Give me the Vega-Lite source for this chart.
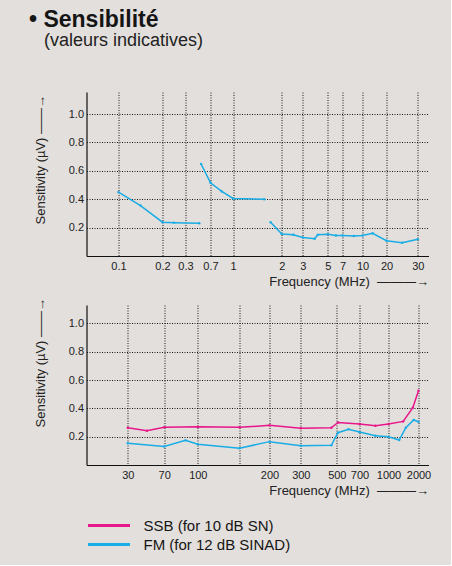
{
  "$schema": "https://vega.github.io/schema/vega-lite/v6.json",
  "background": "#e3dfdc",
  "padding": {"left": 28.5, "top": 9, "right": 19, "bottom": 12},
  "title": {
    "text": "• Sensibilité",
    "subtitle": "\u200b\u00a0\u00a0\u00a0(valeurs indicatives)",
    "anchor": "start",
    "dx": -5.5,
    "offset": 42,
    "font": "Liberation Sans",
    "fontSize": 23,
    "fontWeight": "bold",
    "color": "#151515",
    "subtitleFont": "Liberation Sans",
    "subtitleFontSize": 18,
    "subtitleColor": "#222222",
    "subtitlePadding": 0
  },
  "spacing": 9,
  "datasets": {
    "hf": [
      {"f": 0.1, "s": 0.45, "series": "FM", "seg": "a"},
      {"f": 0.15, "s": 0.355, "series": "FM", "seg": "a"},
      {"f": 0.2, "s": 0.238, "series": "FM", "seg": "a"},
      {"f": 0.25, "s": 0.235, "series": "FM", "seg": "a"},
      {"f": 0.52, "s": 0.23, "series": "FM", "seg": "a"},
      {"f": 0.55, "s": 0.648, "series": "FM", "seg": "b"},
      {"f": 0.7, "s": 0.516, "series": "FM", "seg": "b"},
      {"f": 0.85, "s": 0.455, "series": "FM", "seg": "b"},
      {"f": 1, "s": 0.405, "series": "FM", "seg": "b"},
      {"f": 1.64, "s": 0.4, "series": "FM", "seg": "b"},
      {"f": 1.77, "s": 0.238, "series": "FM", "seg": "c"},
      {"f": 2, "s": 0.155, "series": "FM", "seg": "c"},
      {"f": 2.55, "s": 0.15, "series": "FM", "seg": "c"},
      {"f": 3, "s": 0.13, "series": "FM", "seg": "c"},
      {"f": 3.95, "s": 0.122, "series": "FM", "seg": "c"},
      {"f": 4.2, "s": 0.15, "series": "FM", "seg": "c"},
      {"f": 5, "s": 0.153, "series": "FM", "seg": "c"},
      {"f": 6.1, "s": 0.144, "series": "FM", "seg": "c"},
      {"f": 7, "s": 0.144, "series": "FM", "seg": "c"},
      {"f": 8.7, "s": 0.141, "series": "FM", "seg": "c"},
      {"f": 10, "s": 0.144, "series": "FM", "seg": "c"},
      {"f": 14.2, "s": 0.16, "series": "FM", "seg": "c"},
      {"f": 20, "s": 0.108, "series": "FM", "seg": "c"},
      {"f": 25, "s": 0.094, "series": "FM", "seg": "c"},
      {"f": 30, "s": 0.118, "series": "FM", "seg": "c"}
    ],
    "vuhf": [
      {"f": 30, "s": 0.263, "series": "SSB"},
      {"f": 51, "s": 0.242, "series": "SSB"},
      {"f": 70, "s": 0.266, "series": "SSB"},
      {"f": 100, "s": 0.27, "series": "SSB"},
      {"f": 150, "s": 0.266, "series": "SSB"},
      {"f": 200, "s": 0.28, "series": "SSB"},
      {"f": 300, "s": 0.259, "series": "SSB"},
      {"f": 470, "s": 0.263, "series": "SSB"},
      {"f": 510, "s": 0.3, "series": "SSB"},
      {"f": 700, "s": 0.29, "series": "SSB"},
      {"f": 865, "s": 0.277, "series": "SSB"},
      {"f": 1000, "s": 0.29, "series": "SSB"},
      {"f": 1490, "s": 0.308, "series": "SSB"},
      {"f": 1810, "s": 0.405, "series": "SSB"},
      {"f": 2000, "s": 0.525, "series": "SSB"},
      {"f": 30, "s": 0.153, "series": "FM"},
      {"f": 70, "s": 0.13, "series": "FM"},
      {"f": 89, "s": 0.174, "series": "FM"},
      {"f": 100, "s": 0.146, "series": "FM"},
      {"f": 150, "s": 0.118, "series": "FM"},
      {"f": 200, "s": 0.165, "series": "FM"},
      {"f": 300, "s": 0.136, "series": "FM"},
      {"f": 470, "s": 0.139, "series": "FM"},
      {"f": 510, "s": 0.228, "series": "FM"},
      {"f": 603, "s": 0.252, "series": "FM"},
      {"f": 700, "s": 0.233, "series": "FM"},
      {"f": 865, "s": 0.207, "series": "FM"},
      {"f": 1000, "s": 0.2, "series": "FM"},
      {"f": 1356, "s": 0.176, "series": "FM"},
      {"f": 1577, "s": 0.263, "series": "FM"},
      {"f": 1840, "s": 0.318, "series": "FM"},
      {"f": 2000, "s": 0.306, "series": "FM"}
    ]
  },
  "vconcat": [
    {
      "width": 342,
      "height": 164,
      "data": {"name": "hf"},
      "mark": {"type": "line", "strokeWidth": 1.5, "point": {"filled": true, "size": 6}},
      "encoding": {
        "x": {
          "field": "f",
          "type": "quantitative",
          "scale": {
            "domain": [0.03, 0.1, 0.2, 0.3, 0.7, 1, 2, 3, 5, 7, 10, 20, 30, 33.5],
            "range": [0, 32, 76, 99, 124, 146.5, 195.3, 216.3, 241.3, 256, 276, 300, 331.3, 342],
            "nice": false,
            "zero": false
          },
          "axis": {
            "values": [0.1, 0.2, 0.3, 0.7, 1, 2, 3, 5, 7, 10, 20, 30],
            "format": "~g",
            "title": "Frequency (MHz)\u00a0\u00a0———→",
            "titleX": 342,
            "titleY": 25,
            "titleAlign": "right",
            "titleBaseline": "middle"
          }
        },
        "y": {
          "field": "s",
          "type": "quantitative",
          "scale": {"domain": [0, 1.155], "nice": false},
          "axis": {
            "values": [0.2, 0.4, 0.6, 0.8, 1],
            "format": ".1f",
            "title": "Sensitivity (µV) ——→",
            "titleX": -46,
            "titleY": 132,
            "titleAlign": "left",
            "titleBaseline": "middle",
            "titleAngle": 270
          }
        },
        "color": {
          "field": "series",
          "type": "nominal",
          "scale": {"domain": ["SSB", "FM"], "range": ["#e8168a", "#19ade6"]},
          "legend": null
        },
        "detail": {"field": "seg"}
      }
    },
    {
      "width": 342,
      "height": 160,
      "data": {"name": "vuhf"},
      "mark": {"type": "line", "strokeWidth": 1.5, "point": {"filled": true, "size": 6}},
      "encoding": {
        "x": {
          "field": "f",
          "type": "quantitative",
          "scale": {
            "domain": [0, 30, 70, 100, 150, 200, 300, 500, 700, 1000, 2000, 2400],
            "range": [0, 41.3, 77.7, 111.3, 153, 183, 214.3, 250.3, 273, 302, 332, 342],
            "nice": false,
            "zero": false
          },
          "axis": {
            "values": [30, 70, 100, 150, 200, 300, 500, 700, 1000, 2000],
            "format": "d",
            "labelExpr": "datum.value == 150 ? '' : datum.label",
            "title": "Frequency (MHz)\u00a0\u00a0———→",
            "titleX": 342,
            "titleY": 25,
            "titleAlign": "right",
            "titleBaseline": "middle"
          }
        },
        "y": {
          "field": "s",
          "type": "quantitative",
          "scale": {"domain": [0, 1.13], "nice": false},
          "axis": {
            "values": [0.2, 0.4, 0.6, 0.8, 1],
            "format": ".1f",
            "title": "Sensitivity (µV) ——→",
            "titleX": -46,
            "titleY": 122,
            "titleAlign": "left",
            "titleBaseline": "middle",
            "titleAngle": 270
          }
        },
        "color": {
          "field": "series",
          "type": "nominal",
          "scale": {"domain": ["SSB", "FM"], "range": ["#e8168a", "#19ade6"]},
          "legend": {
            "title": null,
            "orient": "none",
            "legendX": 14,
            "legendY": 212,
            "direction": "vertical",
            "symbolType": "M-3,0H3",
            "symbolSize": 196,
            "symbolStrokeWidth": 3,
            "labelFont": "Liberation Sans",
            "labelFontSize": 15,
            "labelColor": "#151515",
            "labelOffset": 26,
            "rowPadding": 2,
            "labelLimit": 400,
            "labelExpr": "datum.label == 'SSB' ? 'SSB (for 10 dB SN)' : 'FM (for 12 dB SINAD)'"
          }
        }
      }
    }
  ],
  "resolve": {"scale": {"color": "independent"}},
  "config": {
    "view": {"stroke": null},
    "axis": {
      "labelFont": "Liberation Sans",
      "labelFontSize": 11,
      "labelColor": "#222222",
      "titleFont": "Liberation Sans",
      "titleFontSize": 13,
      "titleFontWeight": "normal",
      "titleColor": "#222222",
      "ticks": false,
      "domainColor": "#111111",
      "domainWidth": 1.2,
      "grid": true,
      "gridColor": "#000000",
      "gridDash": [1, 1.5],
      "gridOpacity": 0.9,
      "gridWidth": 1,
      "labelPadding": 4
    },
    "axisY": {"labelPadding": 3}
  }
}
